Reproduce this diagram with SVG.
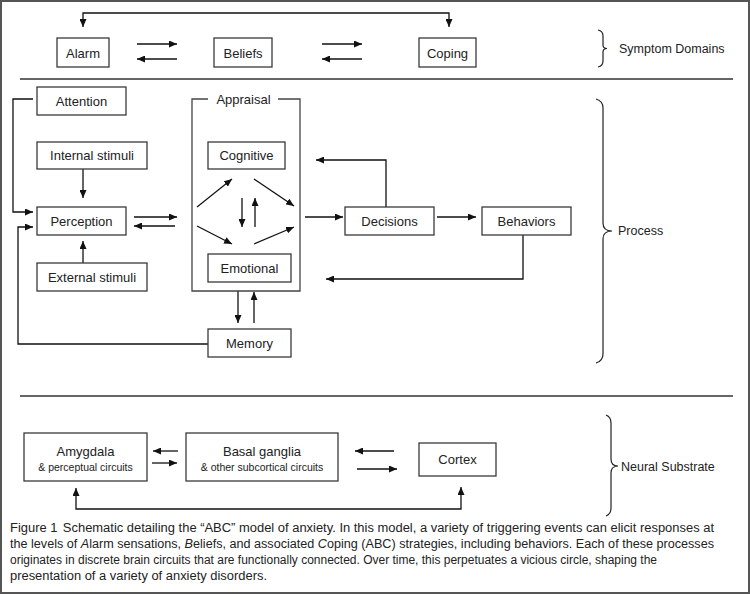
<svg xmlns="http://www.w3.org/2000/svg" width="750" height="594" viewBox="0 0 750 594">
<style>
.box{fill:#fff;stroke:#3a3a3a;stroke-width:1.3}
.lbl{font-family:"Liberation Sans",Arial,sans-serif;font-size:13px;fill:#222;text-anchor:middle}
.sub{font-family:"Liberation Sans",Arial,sans-serif;font-size:10.5px;fill:#222;text-anchor:middle}
.side{font-family:"Liberation Sans",Arial,sans-serif;font-size:12.5px;fill:#222}
.cap{font-family:"Liberation Sans",Arial,sans-serif;font-size:12px;fill:#222}
.ar{fill:none;stroke:#111;stroke-width:1.3;marker-end:url(#ah)}
.ar2{fill:none;stroke:#111;stroke-width:1.3;marker-start:url(#ah);marker-end:url(#ah)}
.ln{fill:none;stroke:#444;stroke-width:1.3}
.sep{stroke:#666;stroke-width:2}
.brace{fill:none;stroke:#222;stroke-width:1.2}
</style>
<defs>
<marker id="ah" markerUnits="userSpaceOnUse" markerWidth="8" markerHeight="7" refX="8" refY="3.5" orient="auto-start-reverse">
<path d="M0,0 L8,3.5 L0,7 z" fill="#111"/>
</marker>
</defs>
<rect x="1" y="1" width="748" height="592" fill="#fff" stroke="#555" stroke-width="2"/>
<line class="sep" x1="20" y1="79" x2="733" y2="79"/>
<line class="sep" x1="20" y1="396" x2="733" y2="396"/>

<g id="connectors">
<path class="ar2" d="M83,27 V13 H449 V27"/>
<path class="ar" d="M137,44 H177"/>
<path class="ar" d="M177,59 H137"/>
<path class="ar" d="M322,44 H362"/>
<path class="ar" d="M362,59 H322"/>
<path class="ar" d="M33,99 H13 V212 H33"/>
<path class="ar" d="M83,169 V198"/>
<path class="ar" d="M83,263 V241"/>
<path class="ar" d="M208,344 H18 V227 H33"/>
<path class="ar" d="M134,217 H177"/>
<path class="ar" d="M175,226 H134"/>
<path class="ar" d="M197,207 L232,179"/>
<path class="ar" d="M254,179 L294,206"/>
<path class="ar" d="M197,226 L232,244"/>
<path class="ar" d="M254,244 L294,227"/>
<path class="ar" d="M242,198 V227"/>
<path class="ar" d="M255,227 V198"/>
<path class="ar" d="M238,291 V323"/>
<path class="ar" d="M254,323 V292"/>
<path class="ar" d="M305,217 H343"/>
<path class="ar" d="M437,217 H476"/>
<path class="ar" d="M386,207 V160 H316"/>
<path class="ar" d="M523,235 V279 H326"/>
<path class="ar" d="M178,451 H153"/>
<path class="ar" d="M152,463 H177"/>
<path class="ar" d="M394,451 H355"/>
<path class="ar" d="M357,469 H397"/>
<path class="ar2" d="M76,488 V509 H461 V487"/>
</g>

<g id="alarm"><rect class="box" x="57" y="38" width="52" height="29"/><text class="lbl" x="83" y="57.5">Alarm</text></g>
<g id="beliefs"><rect class="box" x="214" y="38" width="58" height="29"/><text class="lbl" x="243" y="57.5">Beliefs</text></g>
<g id="coping"><rect class="box" x="419" y="38" width="57" height="29"/><text class="lbl" x="447.5" y="57.5">Coping</text></g>
<g id="symptom-domains">
<path class="brace" d="M598,30 Q603,31 603,36 V45 Q603,48.5 607,48.5 Q603,48.5 603,52 V61 Q603,66 598,67"/>
<text class="side" x="619" y="53">Symptom Domains</text>
</g>

<g id="attention"><rect class="box" x="37" y="87" width="89" height="28"/><text class="lbl" x="81.5" y="105.5">Attention</text></g>
<g id="internal-stimuli"><rect class="box" x="37" y="142" width="110" height="27"/><text class="lbl" x="92" y="160">Internal stimuli</text></g>
<g id="perception"><rect class="box" x="37" y="207" width="89" height="28"/><text class="lbl" x="81.5" y="225.5">Perception</text></g>
<g id="external-stimuli"><rect class="box" x="37" y="263" width="110" height="28"/><text class="lbl" x="92" y="281.5">External stimuli</text></g>
<g id="appraisal">
<path class="ln" d="M208,99 H192 V291 H300 V99 H278"/>
<text class="lbl" x="243.5" y="104">Appraisal</text>
</g>
<g id="cognitive"><rect class="box" x="208" y="142" width="77" height="27"/><text class="lbl" x="246.5" y="160">Cognitive</text></g>
<g id="emotional"><rect class="box" x="208" y="254" width="83" height="28"/><text class="lbl" x="249.5" y="272.5">Emotional</text></g>
<g id="memory"><rect class="box" x="208" y="329" width="83" height="28"/><text class="lbl" x="249.5" y="347.5">Memory</text></g>
<g id="decisions"><rect class="box" x="345" y="207" width="89" height="28"/><text class="lbl" x="389.5" y="225.5">Decisions</text></g>
<g id="behaviors"><rect class="box" x="482" y="207" width="89" height="28"/><text class="lbl" x="526.5" y="225.5">Behaviors</text></g>
<g id="process">
<path class="brace" d="M596,99 Q603,101 603,108 V223 Q603,231 612,231 Q603,231 603,239 V354 Q603,361 596,363"/>
<text class="side" x="618" y="235">Process</text>
</g>

<g id="amygdala"><rect class="box" x="24" y="433" width="123" height="48"/><text class="lbl" x="85.5" y="456">Amygdala</text><text class="sub" x="85.5" y="471">&amp; perceptual circuits</text></g>
<g id="basal-ganglia"><rect class="box" x="186" y="433" width="152" height="48"/><text class="lbl" x="262" y="456">Basal ganglia</text><text class="sub" x="262" y="471">&amp; other subcortical circuits</text></g>
<g id="cortex"><rect class="box" x="419" y="443" width="77" height="33"/><text class="lbl" x="457.5" y="464">Cortex</text></g>
<g id="neural-substrate">
<path class="brace" d="M606,415 Q611,417 611,423 V459 Q611,466 618,466 Q611,466 611,473 V508 Q611,514 606,516"/>
<text class="side" x="621" y="471">Neural Substrate</text>
</g>

<g id="caption">
<text class="cap" x="10" y="532" textLength="704" lengthAdjust="spacingAndGlyphs">Figure 1<tspan dx="5">Schematic detailing the “ABC” model of anxiety. In this model, a variety of triggering events can elicit responses at</tspan></text>
<text class="cap" x="10" y="548" textLength="704" lengthAdjust="spacingAndGlyphs">the levels of <tspan font-style="italic">A</tspan>larm sensations, <tspan font-style="italic">B</tspan>eliefs, and associated <tspan font-style="italic">C</tspan>oping (ABC) strategies, including behaviors. Each of these processes</text>
<text class="cap" x="10" y="564" textLength="647" lengthAdjust="spacingAndGlyphs">originates in discrete brain circuits that are functionally connected. Over time, this perpetuates a vicious circle, shaping the</text>
<text class="cap" x="10" y="580" textLength="257" lengthAdjust="spacingAndGlyphs">presentation of a variety of anxiety disorders.</text>
</g>
</svg>
